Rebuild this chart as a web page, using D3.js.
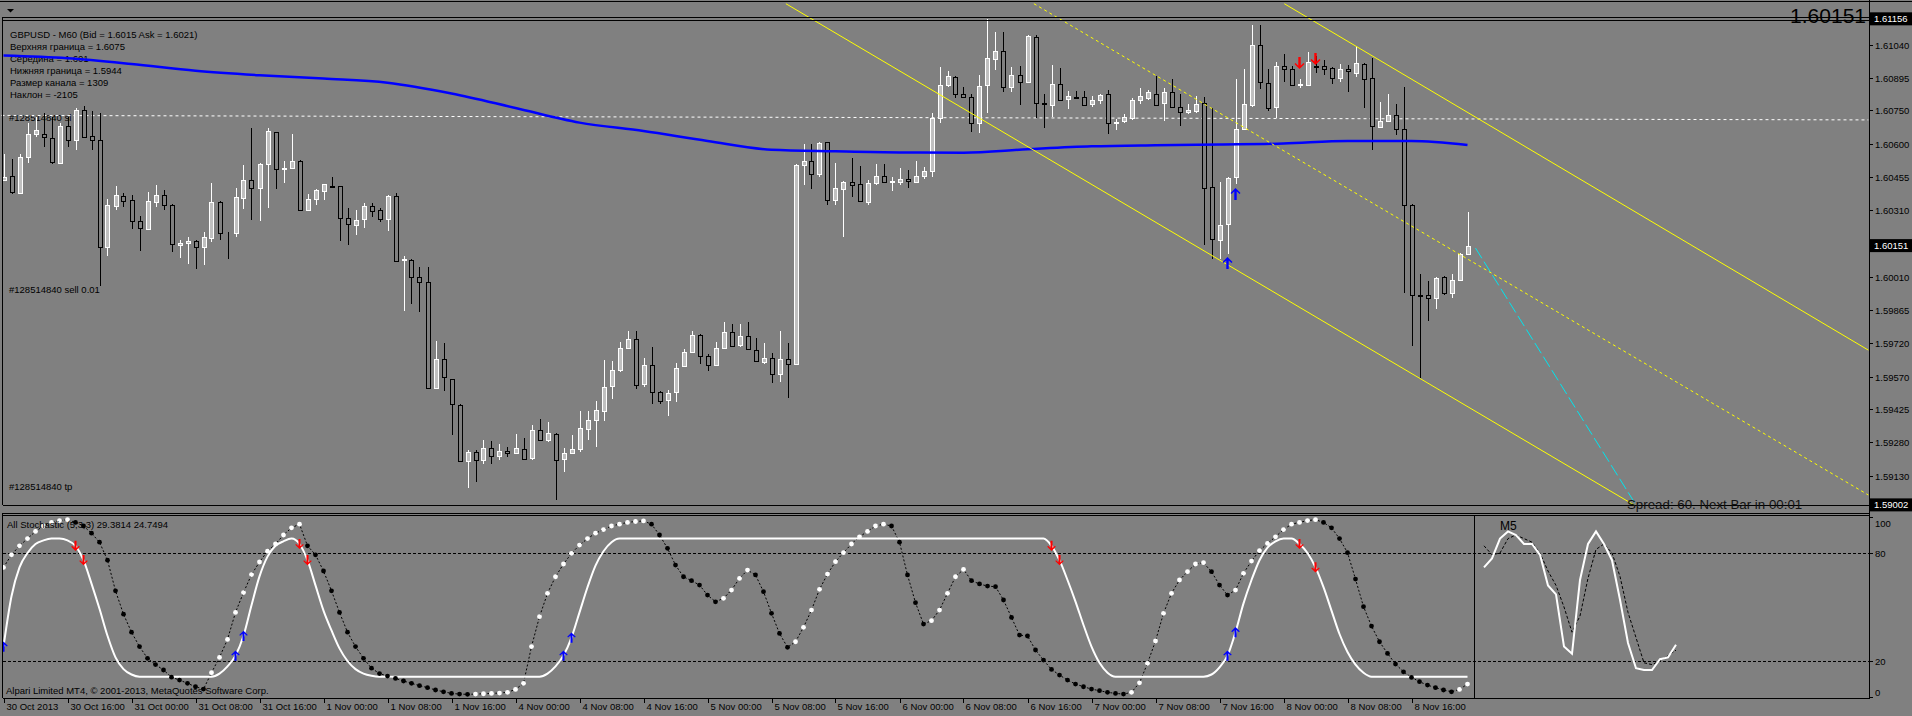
<!DOCTYPE html>
<html><head><meta charset="utf-8">
<script src="https://cdn.jsdelivr.net/npm/d3@7/dist/d3.min.js"></script>
<style>
html,body{margin:0;padding:0;background:#808080;overflow:hidden}
svg{display:block}
text{font-family:"Liberation Sans",Arial,sans-serif;}
</style></head><body>
<svg id="chart" width="1912" height="716"></svg>
<script>
// ================= DATA =================
// GBPUSD H1 candles, bar 0 = 30 Oct 2013 08:00 ... bar 183 = 8 Nov 23:00
const opens = [
1.60441,1.60458,1.60384,1.60542,1.60645,1.60645,1.60630,1.60518,1.60681,1.60618,
1.60753,1.60636,1.60621,1.60143,1.60326,1.60371,1.60353,1.60258,1.60225,1.60346,
1.60374,1.60333,1.60153,1.60163,1.60173,1.60143,1.60186,1.60346,1.60209,1.60209,
1.60363,1.60441,1.60405,1.60513,1.60653,1.60491,1.60495,1.60528,1.60308,1.60358,
1.60393,1.60416,1.60413,1.60273,1.60243,1.60269,1.60326,1.60308,1.60269,1.60371,
1.60088,1.60088,1.60010,1.59988,1.59519,1.59649,1.59558,1.59445,1.59196,1.59235,
1.59199,1.59256,1.59220,1.59240,1.59230,1.59250,1.59208,1.59333,1.59291,1.59316,
1.59205,1.59230,1.59250,1.59339,1.59376,1.59418,1.59528,1.59601,1.59698,1.59736,
1.59538,1.59624,1.59504,1.59468,1.59501,1.59616,1.59681,1.59756,1.59663,1.59624,
1.59698,1.59768,1.59711,1.59751,1.59688,1.59636,1.59654,1.59583,1.59648,1.59628,
1.60506,1.60528,1.60468,1.60608,1.60351,1.60403,1.60431,1.60423,1.60343,1.60428,
1.60459,1.60434,1.60435,1.60448,1.60434,1.60461,1.60480,1.60716,1.60861,1.60900,
1.60824,1.60809,1.60696,1.60861,1.60978,1.61013,1.60855,1.60909,1.60878,1.61074,
1.60782,1.60776,1.60866,1.60801,1.60810,1.60809,1.60780,1.60798,1.60824,1.60696,
1.60701,1.60716,1.60798,1.60806,1.60825,1.60783,1.60831,1.60764,1.60741,1.60746,
1.60783,1.60411,1.60178,1.60248,1.60453,1.60668,1.60773,1.61041,1.60873,1.60764,
1.60945,1.60933,1.60861,1.60861,1.60948,1.60945,1.60938,1.60894,1.60933,1.60918,
1.60956,1.60893,1.60675,1.60705,1.60731,1.60666,1.60333,1.59931,1.59931,1.59921,
1.60010,1.59943,1.60000,1.60114];
const highs = [
1.60558,1.60536,1.60558,1.60693,1.60723,1.60738,1.60723,1.60693,1.60723,1.60761,
1.60768,1.60748,1.60738,1.60356,1.60416,1.60386,1.60374,1.60284,1.60389,1.60419,
1.60396,1.60336,1.60178,1.60188,1.60178,1.60213,1.60428,1.60349,1.60213,1.60408,
1.60506,1.60671,1.60516,1.60671,1.60656,1.60528,1.60645,1.60531,1.60378,1.60401,
1.60426,1.60453,1.60416,1.60318,1.60311,1.60341,1.60341,1.60318,1.60374,1.60383,
1.60103,1.60091,1.60056,1.60056,1.59729,1.59718,1.59561,1.59448,1.59246,1.59246,
1.59288,1.59283,1.59270,1.59260,1.59318,1.59298,1.59354,1.59381,1.59369,1.59319,
1.59253,1.59313,1.59418,1.59418,1.59463,1.59643,1.59640,1.59726,1.59771,1.59771,
1.59651,1.59703,1.59508,1.59511,1.59631,1.59693,1.59771,1.59759,1.59669,1.59723,
1.59811,1.59803,1.59803,1.59811,1.59741,1.59721,1.59673,1.59771,1.59721,1.60513,
1.60603,1.60603,1.60611,1.60611,1.60518,1.60438,1.60539,1.60503,1.60443,1.60513,
1.60513,1.60453,1.60494,1.60486,1.60525,1.60498,1.60738,1.60941,1.60926,1.60903,
1.60853,1.60821,1.60906,1.61156,1.61098,1.61098,1.60941,1.60948,1.61083,1.61083,
1.60825,1.60951,1.60936,1.60836,1.60838,1.60836,1.60813,1.60825,1.60840,1.60711,
1.60734,1.60803,1.60851,1.60840,1.60903,1.60851,1.60891,1.60825,1.60780,1.60813,
1.60809,1.60761,1.60435,1.60453,1.60888,1.60933,1.61128,1.61128,1.60933,1.60963,
1.60998,1.60948,1.60890,1.61011,1.60993,1.60974,1.60941,1.60956,1.60953,1.61035,
1.60959,1.60983,1.60786,1.60822,1.60780,1.60853,1.60336,1.60023,1.59993,1.60010,
1.60018,1.60026,1.60118,1.60300];
const lows = [
1.60438,1.60378,1.60378,1.60518,1.60633,1.60588,1.60513,1.60513,1.60588,1.60573,
1.60626,1.60573,1.59973,1.60105,1.60311,1.60323,1.60225,1.60128,1.60222,1.60323,
1.60308,1.60123,1.60098,1.60068,1.60048,1.60063,1.60168,1.60176,1.60093,1.60188,
1.60313,1.60266,1.60261,1.60318,1.60401,1.60428,1.60491,1.60303,1.60303,1.60333,
1.60353,1.60408,1.60171,1.60153,1.60198,1.60228,1.60278,1.60255,1.60216,1.60078,
1.59861,1.59891,1.59856,1.59516,1.59516,1.59508,1.59313,1.59193,1.59076,1.59103,
1.59181,1.59181,1.59200,1.59215,1.59227,1.59201,1.59201,1.59286,1.59280,1.59023,
1.59148,1.59227,1.59235,1.59291,1.59258,1.59373,1.59471,1.59591,1.59691,1.59516,
1.59523,1.59448,1.59448,1.59396,1.59460,1.59613,1.59673,1.59628,1.59595,1.59621,
1.59695,1.59700,1.59700,1.59688,1.59636,1.59628,1.59541,1.59546,1.59475,1.59625,
1.60420,1.60401,1.60453,1.60329,1.60329,1.60188,1.60368,1.60343,1.60333,1.60419,
1.60428,1.60393,1.60419,1.60408,1.60431,1.60446,1.60456,1.60696,1.60855,1.60806,
1.60806,1.60656,1.60651,1.60738,1.60930,1.60831,1.60831,1.60776,1.60873,1.60716,
1.60674,1.60719,1.60795,1.60758,1.60801,1.60771,1.60765,1.60780,1.60644,1.60663,
1.60696,1.60708,1.60780,1.60795,1.60773,1.60701,1.60761,1.60681,1.60735,1.60738,
1.60153,1.60093,1.60093,1.60116,1.60423,1.60663,1.60765,1.60843,1.60746,1.60716,
1.60878,1.60858,1.60850,1.60858,1.60918,1.60906,1.60868,1.60878,1.60831,1.60899,
1.60761,1.60576,1.60674,1.60699,1.60641,1.59940,1.59706,1.59564,1.59816,1.59868,
1.59931,1.59918,1.59996,1.60108];
const closes = [
1.60456,1.60390,1.60542,1.60644,1.60663,1.60633,1.60521,1.60681,1.60618,1.60753,
1.60633,1.60621,1.60146,1.60329,1.60374,1.60348,1.60258,1.60231,1.60348,1.60374,
1.60333,1.60156,1.60163,1.60173,1.60143,1.60188,1.60346,1.60209,1.60206,1.60366,
1.60441,1.60405,1.60513,1.60659,1.60491,1.60495,1.60528,1.60308,1.60356,1.60396,
1.60423,1.60411,1.60273,1.60246,1.60266,1.60326,1.60306,1.60269,1.60371,1.60083,
1.60093,1.60010,1.59988,1.59519,1.59649,1.59568,1.59448,1.59196,1.59235,1.59199,
1.59256,1.59220,1.59240,1.59230,1.59256,1.59205,1.59333,1.59291,1.59321,1.59201,
1.59230,1.59250,1.59343,1.59376,1.59421,1.59523,1.59601,1.59698,1.59736,1.59534,
1.59624,1.59504,1.59463,1.59499,1.59610,1.59681,1.59756,1.59663,1.59624,1.59698,
1.59768,1.59708,1.59751,1.59691,1.59640,1.59654,1.59583,1.59648,1.59628,1.60508,
1.60528,1.60468,1.60606,1.60351,1.60408,1.60431,1.60419,1.60348,1.60428,1.60461,
1.60434,1.60438,1.60448,1.60438,1.60458,1.60480,1.60716,1.60861,1.60903,1.60824,
1.60809,1.60696,1.60858,1.60981,1.61013,1.60855,1.60909,1.60876,1.61080,1.60782,
1.60777,1.60866,1.60798,1.60813,1.60807,1.60776,1.60798,1.60819,1.60696,1.60698,
1.60719,1.60798,1.60813,1.60831,1.60776,1.60831,1.60764,1.60741,1.60750,1.60780,
1.60408,1.60180,1.60243,1.60450,1.60668,1.60780,1.61038,1.60876,1.60761,1.60945,
1.60933,1.60861,1.60866,1.60963,1.60941,1.60933,1.60894,1.60933,1.60926,1.60959,
1.60888,1.60681,1.60705,1.60731,1.60666,1.60333,1.59931,1.59928,1.59921,1.60009,
1.59943,1.60000,1.60114,1.60151];

const timeLabels = ["30 Oct 2013","30 Oct 16:00","31 Oct 00:00","31 Oct 08:00","31 Oct 16:00",
  "1 Nov 00:00","1 Nov 08:00","1 Nov 16:00","4 Nov 00:00","4 Nov 08:00","4 Nov 16:00",
  "5 Nov 00:00","5 Nov 08:00","5 Nov 16:00","6 Nov 00:00","6 Nov 08:00","6 Nov 16:00",
  "7 Nov 00:00","7 Nov 08:00","7 Nov 16:00","8 Nov 00:00","8 Nov 08:00","8 Nov 16:00"];
const barsPerLabel = 8;

const priceTicks = ["1.61040","1.60895","1.60750","1.60600","1.60455","1.60310","1.60010",
  "1.59865","1.59720","1.59570","1.59425","1.59280","1.59130"];
const markedPrices = ["1.61156","1.60151","1.59002"];
const bigPrice = "1.60151";

const infoLines = ["GBPUSD - M60 (Bid = 1.6015 Ask = 1.6021)","Верхняя граница = 1.6075",
  "Середина = 1.601","Нижняя граница = 1.5944","Размер канала = 1309","Наклон = -2105"];
const orderLabels = ["#128514840 sl","#128514840 sell 0.01","#128514840 tp"];
const orderLabelPrices = [1.60720, 1.59960, 1.59085];

// moving average (sampled every 8 bars)
const maBars   = [0,8,16,24,32,40,48,56,64,72,80,88,96,104,112,120,128,136,144,152,160,168,176,183];
const maValues = [1.60993,1.60981,1.60956,1.60926,1.60906,1.60891,1.60873,1.60825,1.60761,1.60696,
  1.60659,1.60615,1.60576,1.60569,1.60564,1.60563,1.60578,1.60591,1.60596,1.60599,1.60603,1.60615,1.60615,1.60597];

// stop-loss dashed line [bar, price, bar, price]
const slLine = [-1, 1.60728, 233.1, 1.60708];
// regression channel lines [bar1, price1, bar2, price2]
const chUpper  = [160.1, 1.61223, 233.1, 1.59688];
const chMiddle = [128.8, 1.61223, 233.1, 1.59046];
const chLower  = [97.8, 1.61223, 210, 1.58872];
const cyanLine = [184, 1.60140, 204.8, 1.58960];

// signal arrows on price chart
const buyArrowBars = [153, 154];
const buyArrowPrices = [1.60074, 1.60380];
const sellArrowBars = [162, 164];
const sellArrowPrices = [1.60960, 1.60978];

// Stochastic (5,3,3) %K per bar
const stochK = [
72,79,84,88,92,95,97,98,98.5,97,
95,91,86,76,59,46,36,28,21.5,18,
15,11,9.4,7.6,5.7,4.4,13.5,22,32,47,
58,68,75,81,85,90,94,96,84,79,
70,59,47,36,28,21.5,16,13,11.6,10.3,
8.9,7.6,6.3,5.2,3.9,2.9,2,1.6,1.5,1.6,
1.8,2,2.2,2.6,4.2,7.6,28,44.6,57.6,66.8,
73.9,79.8,84.4,88,91,93,95,96,97,97.5,
97.8,96,90,82.6,73.3,66.8,64.6,62.2,56.6,52.9,
54.8,59.4,65.9,70.5,67.8,58.5,46.5,35.3,27.6,30.7,
38.7,48.3,59.8,68.3,75.2,80.2,85,89,92,95,
96,95,86,67.8,52.4,40.5,42.4,48.3,57.6,66.8,
70.9,64.6,62.8,61.6,61.3,53.9,44.2,34.4,33.9,26.1,
20.5,15.3,12.2,9.4,7.2,5.7,4.4,3.5,2.6,2,
1.6,2.6,7.9,18.7,31.1,46.5,57.6,65,69.6,73.9,
74.6,69.6,62.2,56.6,59.4,68.7,75.5,81.3,85.3,89,
93,96,97,98,98.5,97,94,88,80.2,65.5,
50.2,39.4,30.7,24.2,18.3,14,10.9,8.5,6.6,5.2,
3.9,2.9,4.2,7.2];

// higher-timeframe stochastic (white solid line) points
const trendBars = [0,1,2,3,4,5,6,7,8,9,10,11,12,13,14,15,16,17,26,27,28,29,30,31,32,33,34,35,36,37,38,39,40,41,42,43,44,45,46,47,
  67,68,69,70,71,72,73,74,75,76,77,130,131,132,133,134,135,136,137,138,139,150,151,152,153,154,155,156,157,158,159,160,161,162,163,164,165,166,167,168,169,170,171,183];
const trendValues = [28,56,72,80,85,87,88,88,87,84,76,63,49,34,22,15.5,12.5,11.3,11.3,13,17,23,34,51,67,78,84,86.5,88,85,76,62,48,37,27,20,15.5,13,11.8,11.3,
  11.3,13,17,23,33,47,61,73,81,86,88,88,84,76,65,53,40,28,19,13.5,11.3,11.3,12.5,16.5,23,36,52,65,76,83,86.5,88,88,85,80,72,61,48,35,25,18,13.5,11.3,11.3];
const stSellBars = [9,10,37,38,131,132,162,164];
const stBuyBars = [0,29,30,70,71,153,154];

// M5 sub-window stochastic
const m5Main   = [72,77,88,92,90,85,85,79,62,57,28,24,65,85,92,85,76,54,30,16,15,15,21,22,29];
const m5Signal = [84,79,80,88,90,88,86,80,70,62,50,36,45,66,82,85,80,67,47,33,19,18,20,23,26];
const stochLevels = [80, 20];
const stochAxisLabels = [100, 80, 20, 0];

// ================= DRAWING =================
const svg = d3.select("#chart");
const AX = 1869, MAIN_BOTTOM = 505, ST_TOP = 516, ST_BOTTOM = 698, M5_X = 1474;

const x = d3.scaleLinear().domain([0, 183]).range([3.5, 1467.5]);
const y = d3.scaleLinear().domain([1.59130, 1.61040]).range([476, 45]);
const ys = d3.scaleLinear().domain([0, 100]).range([697, 517]);
const xm5 = d3.scaleLinear().domain([0, m5Main.length - 1]).range([1484, 1676]);

svg.append("rect").attr("width", 1912).attr("height", 716).attr("fill", "#808080");

const defs = svg.append("defs");
defs.append("clipPath").attr("id", "mainClip").append("rect")
  .attr("x", 0).attr("y", 0).attr("width", AX).attr("height", MAIN_BOTTOM);
defs.append("clipPath").attr("id", "stClip").append("rect")
  .attr("x", 3).attr("y", ST_TOP).attr("width", M5_X - 3).attr("height", ST_BOTTOM - ST_TOP);
defs.append("clipPath").attr("id", "m5Clip").append("rect")
  .attr("x", M5_X + 1).attr("y", ST_TOP).attr("width", AX - M5_X - 1).attr("height", ST_BOTTOM - ST_TOP);

const g = svg.append("g").attr("clip-path", "url(#mainClip)");

// info texts
infoLines.forEach((t, i) => {
  g.append("text").attr("x", 10).attr("y", 38 + 12 * i).attr("font-size", 9.5).attr("fill", "#000").text(t);
});
orderLabels.forEach((t, i) => {
  g.append("text").attr("x", 9).attr("y", y(orderLabelPrices[i]) + 4).attr("font-size", 9.5).attr("fill", "#000").text(t);
});

// stop-loss dashed line
g.append("line").attr("x1", x(slLine[0])).attr("y1", y(slLine[1])).attr("x2", x(slLine[2])).attr("y2", y(slLine[3]))
  .attr("stroke", "#fff").attr("stroke-width", 1).attr("stroke-dasharray", "3,3");

// candles
const bars = d3.range(opens.length);
const cg = g.append("g").attr("shape-rendering", "crispEdges");
bars.forEach(k => {
  const o = opens[k], c = closes[k], h = highs[k], l = lows[k];
  const bull = c >= o;
  const col = bull ? "#ffffff" : "#000000";
  const cx = Math.round(x(k)) + 0.5;
  cg.append("line").attr("x1", cx).attr("x2", cx).attr("y1", y(h)).attr("y2", y(l)).attr("stroke", col);
  const top = Math.round(y(Math.max(o, c))) + 0.5, bot = Math.round(y(Math.min(o, c))) + 0.5;
  cg.append("rect").attr("x", cx - 2).attr("y", top).attr("width", 4).attr("height", Math.max(0, bot - top))
    .attr("fill", bull ? "#c0c0c0" : "#808080").attr("stroke", col).attr("stroke-width", 1);
});

// moving average
g.append("path").datum(maBars.map((b, i) => [b, maValues[i]]))
  .attr("d", d3.line().x(d => x(d[0])).y(d => y(d[1])).curve(d3.curveMonotoneX))
  .attr("fill", "none").attr("stroke", "#0000ff").attr("stroke-width", 2.5);

// channel lines
function seg(p, color, dash) {
  g.append("line").attr("x1", x(p[0])).attr("y1", y(p[1])).attr("x2", x(p[2])).attr("y2", y(p[3]))
    .attr("stroke", color).attr("stroke-width", 1).attr("stroke-dasharray", dash || null);
}
seg(chUpper, "#ffff00");
seg(chMiddle, "#ffff00", "3,3");
seg(chLower, "#ffff00");
seg(cyanLine, "#00e5ee", "12,4");

// arrows
const upPath = "M0,-6L5,-1L4,0L1.2,-2.6L1.2,6L-1.2,6L-1.2,-2.6L-4,0L-5,-1Z";
buyArrowBars.forEach((b, i) => {
  g.append("path").attr("d", upPath).attr("fill", "#0000ff")
    .attr("transform", `translate(${x(b)},${y(buyArrowPrices[i])})`);
});
sellArrowBars.forEach((b, i) => {
  g.append("path").attr("d", upPath).attr("fill", "#ff0000")
    .attr("transform", `translate(${x(b)},${y(sellArrowPrices[i])}) rotate(180)`);
});

// horizontal price lines / borders
const frame = svg.append("g").attr("shape-rendering", "crispEdges").attr("stroke", "#000");
frame.append("line").attr("x1", 0).attr("x2", 1912).attr("y1", 1.5).attr("y2", 1.5);
frame.append("line").attr("x1", 2.5).attr("x2", AX).attr("y1", 17.5).attr("y2", 17.5);
frame.append("line").attr("x1", 2.5).attr("x2", AX).attr("y1", Math.round(y(+markedPrices[0])) + 1.5).attr("y2", Math.round(y(+markedPrices[0])) + 1.5);
frame.append("line").attr("x1", 2.5).attr("x2", AX).attr("y1", MAIN_BOTTOM + 0.5).attr("y2", MAIN_BOTTOM + 0.5);
frame.append("line").attr("x1", 2.5).attr("x2", AX).attr("y1", 513.5).attr("y2", 513.5);
frame.append("line").attr("x1", 2.5).attr("x2", AX).attr("y1", 515.5).attr("y2", 515.5);
frame.append("line").attr("x1", 2.5).attr("x2", AX).attr("y1", ST_BOTTOM + 0.5).attr("y2", ST_BOTTOM + 0.5);
frame.append("line").attr("x1", 2.5).attr("x2", 2.5).attr("y1", 17).attr("y2", MAIN_BOTTOM);
frame.append("line").attr("x1", 2.5).attr("x2", 2.5).attr("y1", 513).attr("y2", ST_BOTTOM);
frame.append("line").attr("x1", AX + 0.5).attr("x2", AX + 0.5).attr("y1", 0).attr("y2", ST_BOTTOM + 1);
frame.append("line").attr("x1", M5_X + 0.5).attr("x2", M5_X + 0.5).attr("y1", 515).attr("y2", ST_BOTTOM);

// dropdown triangle
svg.append("path").attr("d", "M7,9L14,9L10.5,12.5Z").attr("fill", "#000");

// big price text
svg.append("text").attr("x", 1866).attr("y", 23).attr("text-anchor", "end").attr("font-size", 21)
  .attr("fill", "#000").text(bigPrice);

// spread text
svg.append("text").attr("x", 1627).attr("y", 509).attr("font-size", 13.3)
  .attr("font-family", "'Liberation Mono','Courier New',monospace").attr("fill", "#111")
  .text("Spread: 60. Next Bar in 00:01");

// price axis
const ax = svg.append("g");
priceTicks.forEach(t => {
  const yy = Math.round(y(+t)) + 0.5;
  ax.append("line").attr("x1", AX).attr("x2", AX + 4).attr("y1", yy).attr("y2", yy).attr("stroke", "#000").attr("shape-rendering", "crispEdges");
  ax.append("text").attr("x", AX + 6).attr("y", yy + 3.5).attr("font-size", 9.5).attr("fill", "#000").text(t);
});
markedPrices.forEach(t => {
  const yy = y(+t);
  ax.append("rect").attr("x", AX + 1).attr("y", yy - 6.5).attr("width", 1912 - AX - 1).attr("height", 13).attr("fill", "#000");
  ax.append("text").attr("x", AX + 5).attr("y", yy + 3.5).attr("font-size", 9.5).attr("fill", "#fff").text(t);
});

// time axis
timeLabels.forEach((t, i) => {
  const xx = Math.round(x(i * barsPerLabel)) + 0.5;
  svg.append("line").attr("x1", xx).attr("x2", xx).attr("y1", ST_BOTTOM + 1).attr("y2", ST_BOTTOM + 5)
    .attr("stroke", "#000").attr("shape-rendering", "crispEdges");
  svg.append("text").attr("x", xx + 2).attr("y", 710).attr("font-size", 9.5).attr("fill", "#000").text(t);
});

// ---- Stochastic panel ----
const lv = svg.append("g").attr("shape-rendering", "crispEdges");
stochLevels.forEach(v => {
  lv.append("line").attr("x1", 3).attr("x2", AX).attr("y1", Math.round(ys(v)) + 0.5).attr("y2", Math.round(ys(v)) + 0.5)
    .attr("stroke", "#000").attr("stroke-dasharray", "3,2");
});
stochAxisLabels.forEach(v => {
  const yy = Math.round(ys(v)) + 0.5;
  svg.append("line").attr("x1", AX).attr("x2", AX + 4).attr("y1", yy).attr("y2", yy).attr("stroke", "#000");
  svg.append("text").attr("x", AX + 6).attr("y", v === 100 ? yy + 9 : (v === 0 ? yy - 2 : yy + 3.5))
    .attr("font-size", 9.5).attr("fill", "#000").text(v);
});

const sg = svg.append("g").attr("clip-path", "url(#stClip)");
// dashed connection of %K
sg.append("path").datum(stochK)
  .attr("d", d3.line().x((d, i) => x(i)).y(d => ys(d)))
  .attr("fill", "none").attr("stroke", "#000").attr("stroke-width", 1).attr("stroke-dasharray", "2,2");
// white trend line
const trendLine = d3.line().x(d => x(d[0])).y(d => ys(d[1])).curve(d3.curveMonotoneX);
const trendPts = trendBars.map((b, i) => [b, trendValues[i]]);
sg.append("path").datum(trendPts).attr("d", trendLine)
  .attr("fill", "none").attr("stroke", "#fff").attr("stroke-width", 2);
// dots
sg.selectAll("circle.k").data(stochK).enter().append("circle")
  .attr("cx", (d, i) => x(i)).attr("cy", d => ys(d)).attr("r", 2.4)
  .attr("fill", (d, i) => (i === 0 || d >= stochK[i - 1]) ? "#fff" : "#000");
// arrows on trend line
function trendAt(b) {
  const i = trendBars.indexOf(b);
  if (i >= 0) return trendValues[i];
  const j = d3.bisectLeft(trendBars, b);
  return trendValues[j - 1];
}
stSellBars.forEach(b => {
  sg.append("path").attr("d", upPath).attr("fill", "#ff0000")
    .attr("transform", `translate(${x(b)},${ys(trendAt(b))}) rotate(180) scale(0.85)`);
});
stBuyBars.forEach(b => {
  sg.append("path").attr("d", upPath).attr("fill", "#0000ff")
    .attr("transform", `translate(${x(b)},${ys(trendAt(b))}) scale(0.85)`);
});

// labels
svg.append("text").attr("x", 7).attr("y", 528).attr("font-size", 9.5).attr("fill", "#000")
  .text("All Stochastic (5,3,3) 29.3814 24.7494");
svg.append("text").attr("x", 6).attr("y", 694).attr("font-size", 9.5).attr("fill", "#000")
  .text("Alpari Limited MT4, © 2001-2013, MetaQuotes Software Corp.");

// M5 window
const mg = svg.append("g").attr("clip-path", "url(#m5Clip)");
mg.append("text").attr("x", 1500).attr("y", 530).attr("font-size", 12).attr("fill", "#000").text("M5");
mg.append("path").datum(m5Signal)
  .attr("d", d3.line().x((d, i) => xm5(i)).y(d => ys(d)))
  .attr("fill", "none").attr("stroke", "#000").attr("stroke-dasharray", "3,2");
mg.append("path").datum(m5Main)
  .attr("d", d3.line().x((d, i) => xm5(i)).y(d => ys(d)))
  .attr("fill", "none").attr("stroke", "#fff").attr("stroke-width", 2);
</script>
</body></html>
